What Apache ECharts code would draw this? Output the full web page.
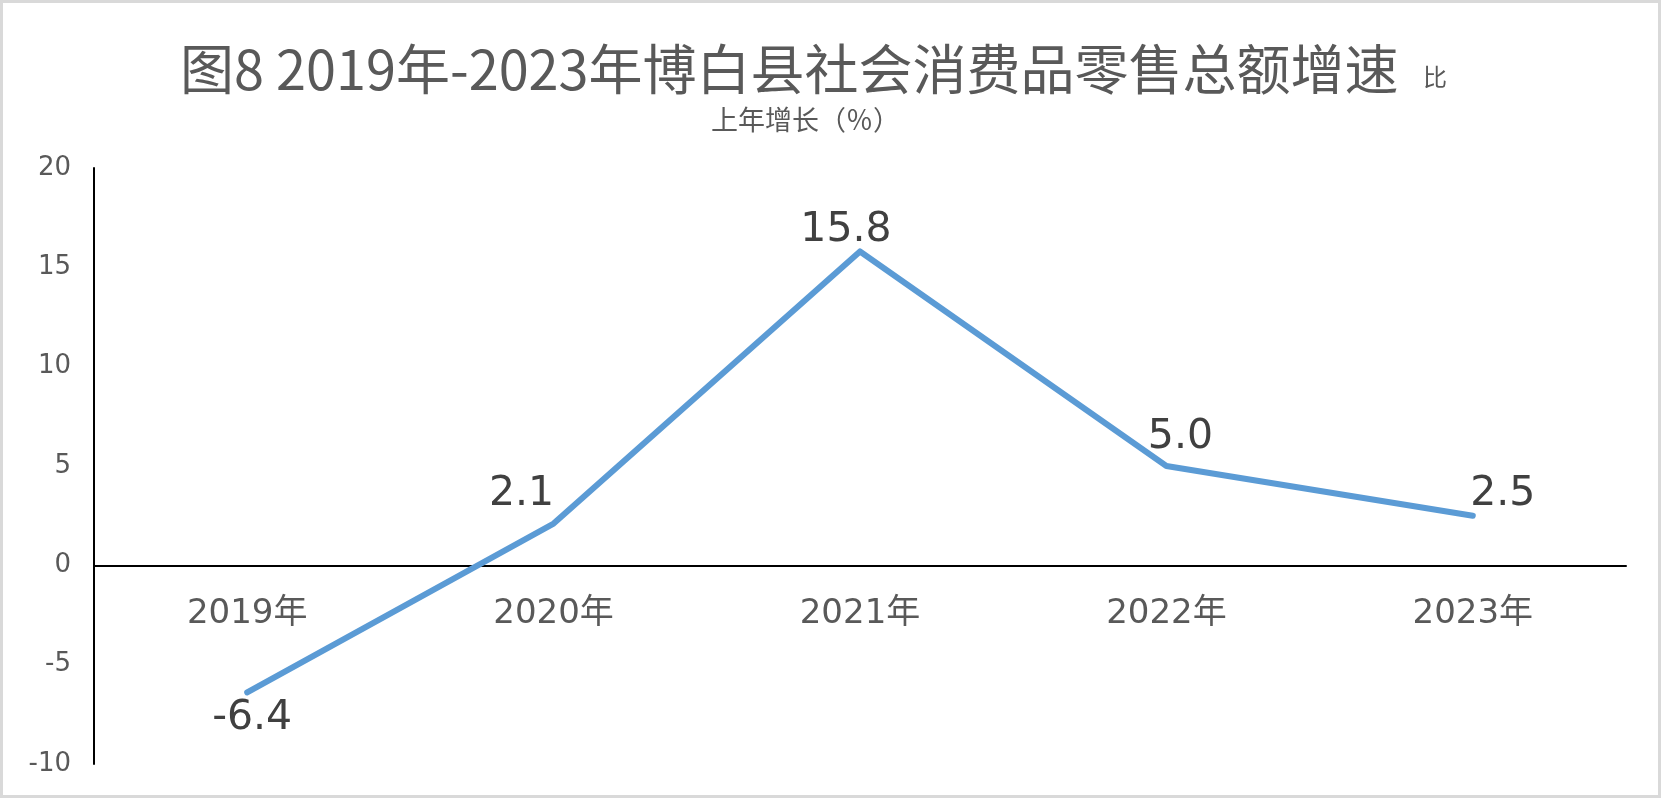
<!doctype html>
<html lang="zh-CN">
<head>
    <meta charset="UTF-8">
    <title>博白县社会消费品零售总额增速</title>
    <script src="https://cdn.jsdelivr.net/npm/echarts@6/dist/echarts.min.js"></script>
    <style>
        html, body {
            margin: 0;
            padding: 0;
            background-color: white;
        }

        #mainChart {
            width: 1661px;
            height: 798px;
        }
    </style>
</head>
<body>
<div id="mainChart"></div>
<script>
    // 数据
    const years = ['2019年', '2020年', '2021年', '2022年', '2023年'];
    const growth = [-6.4, 2.1, 15.8, 5.0, 2.5];
    const yTicks = {min: -10, max: 20, interval: 5};

    // 每个数据标签的位置 (参照原图摆放)
    const labelPlace = [
        {position: 'bottom', offset: [5, 0]},
        {position: 'top', offset: [-32, -4]},
        {position: 'top', offset: [-14, 4]},
        {position: 'top', offset: [14, -3]},
        {position: 'top', offset: [30, 4]}
    ];

    const gridTop = 168, gridBottom = 34, chartHeight = 798;
    // x轴放到0刻度处: 由y轴范围算出距底边的距离
    const plotHeight = chartHeight - gridTop - gridBottom;
    const zeroLift = (0 - yTicks.min) / (yTicks.max - yTicks.min) * plotHeight;

    let myChart = echarts.init(document.getElementById('mainChart'));

    let option = {
        backgroundColor: '#ffffff',
        title: [{
            text: '图8 2019年-2023年博白县社会消费品零售总额增速',
            left: 180,
            top: 42,
            padding: 0,
            textStyle: {
                fontFamily: 'Noto Sans CJK SC',
                fontSize: 54,
                lineHeight: 54,
                fontWeight: 'normal',
                color: '#595959'
            }
        }, {
            text: '比',
            left: 1423,
            top: 65,
            padding: 0,
            textStyle: {
                fontFamily: 'Noto Sans CJK SC',
                fontSize: 24,
                lineHeight: 24,
                fontWeight: 'normal',
                color: '#595959'
            }
        }, {
            text: '上年增长（％）',
            left: 711,
            top: 106,
            padding: 0,
            textStyle: {
                fontFamily: 'Noto Sans CJK SC',
                fontSize: 27,
                lineHeight: 27,
                fontWeight: 'normal',
                color: '#595959'
            }
        }],
        graphic: [{
            type: 'rect',
            shape: {x: 1.5, y: 1.5, width: 1658, height: 795},
            style: {fill: 'none', stroke: '#d9d9d9', lineWidth: 3},
            silent: true
        }],
        grid: {
            left: 94,
            right: 35,
            top: gridTop,
            bottom: gridBottom,
            containLabel: false,
            outerBoundsMode: 'none'
        },
        xAxis: {
            type: 'category',
            data: years,
            boundaryGap: true,
            position: 'bottom',
            offset: -zeroLift,
            axisLine: {
                onZero: false,
                lineStyle: {color: '#000000', width: 2}
            },
            axisTick: {show: false},
            axisLabel: {
                margin: 32,
                fontFamily: 'DejaVu Sans, Noto Sans CJK SC',
                fontSize: 34,
                lineHeight: 34,
                color: '#595959'
            },
            splitLine: {show: false}
        },
        yAxis: {
            type: 'value',
            min: yTicks.min,
            max: yTicks.max,
            interval: yTicks.interval,
            axisLine: {
                show: true,
                onZero: false,
                lineStyle: {color: '#000000', width: 2}
            },
            axisTick: {show: false},
            axisLabel: {
                margin: 23,
                fontFamily: 'DejaVu Sans',
                fontSize: 26,
                color: '#595959'
            },
            splitLine: {show: false}
        },
        series: [{
            name: '增速',
            type: 'line',
            data: growth.map(function (v, i) {
                return {
                    value: v,
                    label: labelPlace[i]
                };
            }),
            symbol: 'circle',
            symbolSize: 0,
            lineStyle: {
                color: '#5B9BD5',
                width: 6,
                cap: 'round',
                join: 'round'
            },
            itemStyle: {color: '#5B9BD5'},
            label: {
                show: true,
                distance: 5,
                fontFamily: 'DejaVu Sans',
                fontSize: 41,
                lineHeight: 41,
                color: '#404040',
                formatter: function (p) {
                    return p.value.toFixed(1);
                }
            },
            silent: true,
            animation: false
        }],
        animation: false
    };

    option && myChart.setOption(option);
</script>
</body>
</html>
